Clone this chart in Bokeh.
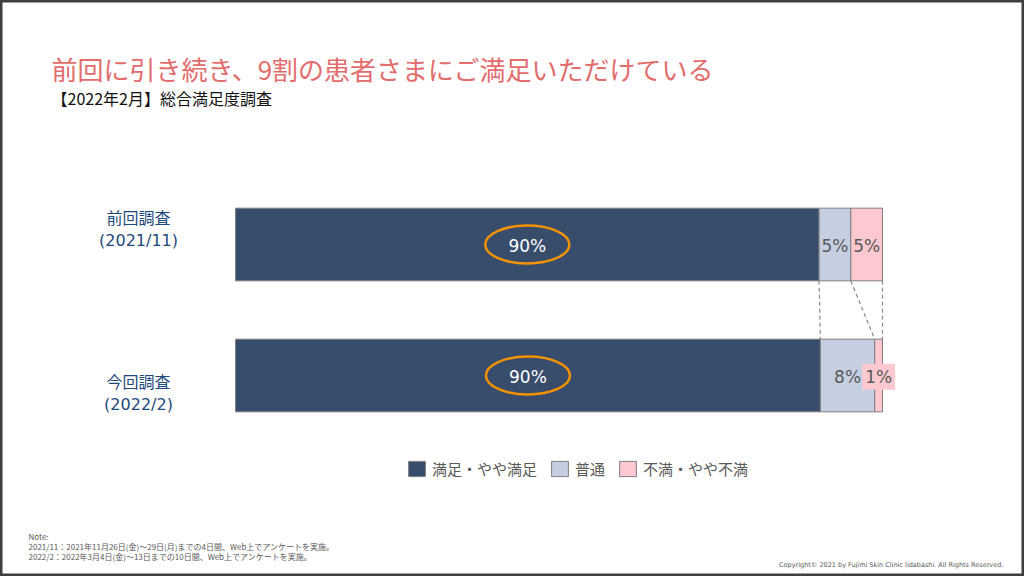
from bokeh.plotting import figure
from bokeh.models import Range1d, Label, Legend, LegendItem, ColumnDataSource
from bokeh.embed import file_html
from bokeh.resources import INLINE

# ---------------- data ----------------
surveys = ["前回調査", "今回調査"]
survey_periods = ["(2021/11)", "(2022/2)"]
series_names = ["満足・やや満足", "普通", "不満・やや不満"]
satisfied = [90.2, 90.4]
neutral = [4.9, 8.4]
dissatisfied = [4.9, 1.2]

title_text = "前回に引き続き、9割の患者さまにご満足いただけている"
subtitle_text = "【2022年2月】総合満足度調査"
note_lines = [
    "Note:",
    "2021/11：2021年11月26日(金)～29日(月)までの4日間、Web上でアンケートを実施。",
    "2022/2：2022年3月4日(金)～13日までの10日間、Web上でアンケートを実施。",
]
copyright_text = "Copyright©  2021 by Fujimi Skin Clinic Iidabashi.  All Rights Reserved."

# ---------------- layout / style ----------------
W, H = 1024, 576
PX0, PXW = 235, 6.47      # pixel of 0 %, pixels per 1 %
PY0, PYS = 244, 131       # pixel of first bar centre, pixels per bar step


def X(px):
    return (px - PX0) / PXW


def Y(py):
    return (py - PY0) / PYS


JP = "Noto Sans CJK JP"
LAT = "DejaVu Sans"
colors = ["#384c6c", "#c5cfe1", "#fdc8d0"]
label_colors = ["white", "#595959", "#595959"]
edge = "#7f7f7f"
BAR_H = 0.555

p = figure(width=W, height=H, x_range=Range1d(X(0), X(W)), y_range=Range1d(Y(H), Y(0)),
           x_axis_type=None, y_axis_type=None, toolbar_location=None,
           output_backend="svg", min_border=0)
p.outline_line_color = "#3f3f3f"
p.outline_line_width = 4
p.background_fill_color = "white"
p.border_fill_color = "white"

ys = list(range(len(surveys)))
series = [satisfied, neutral, dissatisfied]

left = [0.0] * len(ys)
renderers = []
bounds = []
for vals, col in zip(series, colors):
    right = [l + v for l, v in zip(left, vals)]
    src = ColumnDataSource(dict(y=ys, left=left, right=right))
    r = p.hbar(y="y", left="left", right="right", height=BAR_H, source=src,
               fill_color=col, line_color=edge, line_width=1)
    renderers.append(r)
    bounds.append((left, right))
    left = right

# dashed connectors between the bars
cum = [b[1] for b in bounds]
x0s, y0s, x1s, y1s = [], [], [], []
for j in range(len(ys) - 1):
    for c in cum:
        x0s.append(c[j]); y0s.append(ys[j] + BAR_H / 2)
        x1s.append(c[j + 1]); y1s.append(ys[j + 1] - BAR_H / 2)
p.segment(x0=x0s, y0=y0s, x1=x1s, y1=y1s, line_color="#8c8c8c", line_width=1.2, line_dash="4 3")

# segment value labels
for k, ((lft, rgt), vals) in enumerate(zip(bounds, series)):
    for j in ys:
        v = vals[j]
        cx = (lft[j] + rgt[j]) / 2
        kw = {}
        if v < 3:
            kw = dict(background_fill_color=colors[k], padding=3)
        p.add_layout(Label(x=cx, y=ys[j] + 0.01, text=f"{v:.0f}%", text_align="center",
                           text_baseline="middle", text_font=LAT, text_font_size="17px",
                           text_color=label_colors[k], **kw))

# orange highlight ellipses round the satisfied share
p.ellipse(x=[v / 2 for v in satisfied], y=ys, width=13, height=0.29,
          fill_alpha=0, line_color="#f39200", line_width=2.5)

# category labels
cat_offsets_px = [-16, 17]
for j, (name, period) in enumerate(zip(surveys, survey_periods)):
    cy = ys[j] + cat_offsets_px[j] / PYS
    p.add_layout(Label(x=X(138), y=cy - 12 / PYS, text=name, text_align="center",
                       text_baseline="middle", text_font=JP, text_font_size="16px",
                       text_color="#1f497d"))
    p.add_layout(Label(x=X(138), y=cy + 12 / PYS, text=period, text_align="center",
                       text_baseline="middle", text_font=LAT, text_font_size="16px",
                       text_color="#1f497d"))

# title / subtitle
p.add_layout(Label(x=X(51), y=Y(68), text=title_text, text_align="left", text_baseline="middle",
                   text_font=JP, text_font_size="26px", text_color="#e36c6c"))
p.add_layout(Label(x=X(51), y=Y(97), text=subtitle_text, text_align="left", text_baseline="middle",
                   text_font=JP, text_font_size="16px", text_color="#111111"))

# notes
for i, line in enumerate(note_lines):
    p.add_layout(Label(x=X(28), y=Y(536 + 10 * i), text=line, text_align="left",
                       text_baseline="middle", text_font=JP, text_font_size="8px",
                       text_color="#595959"))
p.add_layout(Label(x=X(1007), y=Y(564), text=copyright_text, text_align="right",
                   text_baseline="middle", text_font=LAT, text_font_size="6.5px",
                   text_color="#595959"))

# legend
legend = Legend(items=[LegendItem(label=n, renderers=[r]) for n, r in zip(series_names, renderers)],
                orientation="horizontal", location=(406, 97), padding=0, margin=0, spacing=12,
                label_standoff=5, glyph_width=21, glyph_height=19, label_height=19,
                label_text_font=JP, label_text_font_size="15px",
                label_text_color="#595959", border_line_alpha=0, background_fill_alpha=0)
p.add_layout(legend)

open("out.html", "w").write(file_html(p, INLINE))
